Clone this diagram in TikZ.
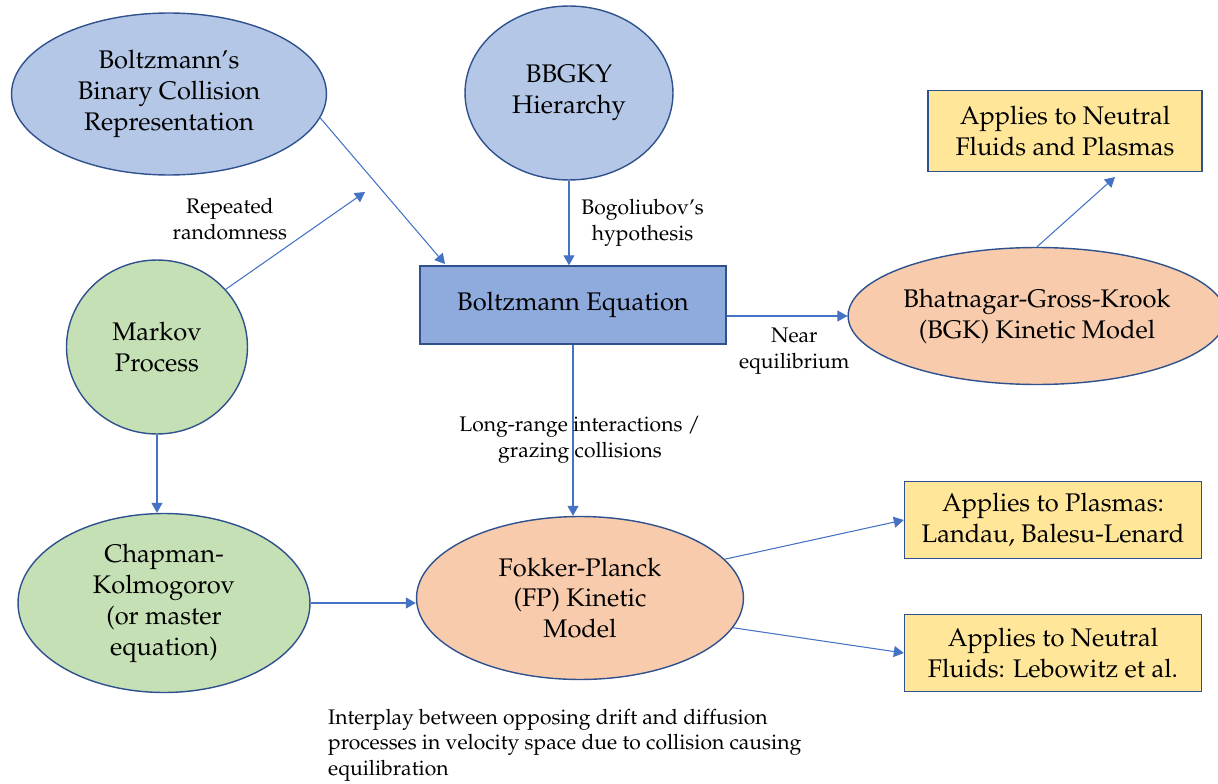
\documentclass[tikz,border=0pt]{standalone}
\usepackage[T1]{fontenc}
\usepackage{mathpazo}
\usetikzlibrary{shapes.geometric,arrows.meta}

\definecolor{bleupale}{HTML}{B4C7E7}
\definecolor{bleuboite}{HTML}{8FAADC}
\definecolor{vertpale}{HTML}{C5E0B4}
\definecolor{saumon}{HTML}{F8CBAD}
\definecolor{jaune}{HTML}{FFE699}
\definecolor{bord}{HTML}{2F528F}
\definecolor{trait}{HTML}{4472C4}

\begin{document}
\begin{tikzpicture}[x=0.02cm,y=-0.02cm]
	\tikzset{bulle/.style={ellipse, draw=bord, line width=0.8pt, align=center, inner sep=0pt, font=\fontsize{14.5}{17.6}\selectfont},
	boite/.style={rectangle, draw=bord, line width=0.8pt, align=center, inner sep=0pt, font=\fontsize{14.5}{17.6}\selectfont},
	fleche/.style={draw=trait, line width=0.6pt, -{Triangle[length=2mm,width=2.2mm]}},
	etiquette/.style={align=center, font=\fontsize{12}{14.6}\selectfont}};

	\useasboundingbox (0,0) rectangle (1218,784);

	\node[bulle, fill=bleupale, minimum width=6.3cm, minimum height=3.24cm] (boltz) at (169,94) {Boltzmann's\\Binary Collision\\Representation};
	\node[bulle, fill=bleupale, minimum width=4.16cm, minimum height=3.48cm] (bbgky) at (569,93) {BBGKY\\Hierarchy};
	\node[boite, fill=bleuboite, minimum width=6.12cm, minimum height=1.56cm] (equation) at (573,305) {Boltzmann Equation};
	\node[bulle, fill=vertpale, minimum width=3.62cm, minimum height=3.48cm] (markov) at (157,347) {Markov\\Process};
	\node[bulle, fill=vertpale, minimum width=5.84cm, minimum height=3.58cm] (chapman) at (164,603) {Chapman-\\Kolmogorov\\ (or master\\equation)};
	\node[bulle, fill=saumon, minimum width=6.54cm, minimum height=3.26cm] (fp) at (580,598) {Fokker-Planck\\(FP) Kinetic\\Model};
	\node[bulle, fill=saumon, minimum width=7.22cm, minimum height=2.74cm] (bgk) at (1037,316) {Bhatnagar-Gross-Krook\\(BGK) Kinetic Model};
	\node[boite, fill=jaune, minimum width=5.48cm, minimum height=1.62cm] (generale) at (1065,131) {Applies to Neutral\\Fluids and Plasmas};

	\coordinate (cible) at (445,264);
	\coordinate (libre) at (365,192);
	\coordinate (haut) at (1115,177);

	\draw[fleche] (boltz.-9) -- (cible);
	\draw[fleche] (markov.40) --node[etiquette, pos=0.03, above=0.8cm] {Repeated\\randomness} (libre);
	\draw[fleche] (bbgky.south) --node[etiquette, right=0.12cm] {Bogoliubov's\\hypothesis} (bbgky.south |- equation.north);
	\draw[fleche] (bgk.west -| equation.east) --node[etiquette, pos=0.56, below=0.12cm] {Near\\equilibrium} (bgk.west);
	\draw[fleche] (equation.south) -- (equation.south |- fp.north);
	\node[etiquette] (portee) at (580,440) {Long-range interactions /\\grazing collisions};
	\draw[fleche] (markov.south) -- (markov.south |- chapman.north);
	\draw[fleche] (chapman.east) -- (chapman.east -| fp.west);
	\draw[fleche] (bgk.north) -- (haut);

	\foreach \nom/\y/\texte/\pente in {plasmas/520/{Applies to Plasmas:\\Landau, Balesu-Lenard}/15, fluides/653/{Applies to Neutral\\Fluids: Lebowitz et al.}/-11}{
		\node[boite, fill=jaune, minimum width=5.94cm, minimum height=1.54cm] (\nom) at (1053,\y) {\texte};
		\draw[fleche] (fp.\pente) -- (\nom.west);
	}

	\node[etiquette, align=left, anchor=west] (legende) at (322,745) {Interplay between opposing drift and diffusion\\processes in velocity space due to collision causing\\equilibration};

\end{tikzpicture}
\end{document}
